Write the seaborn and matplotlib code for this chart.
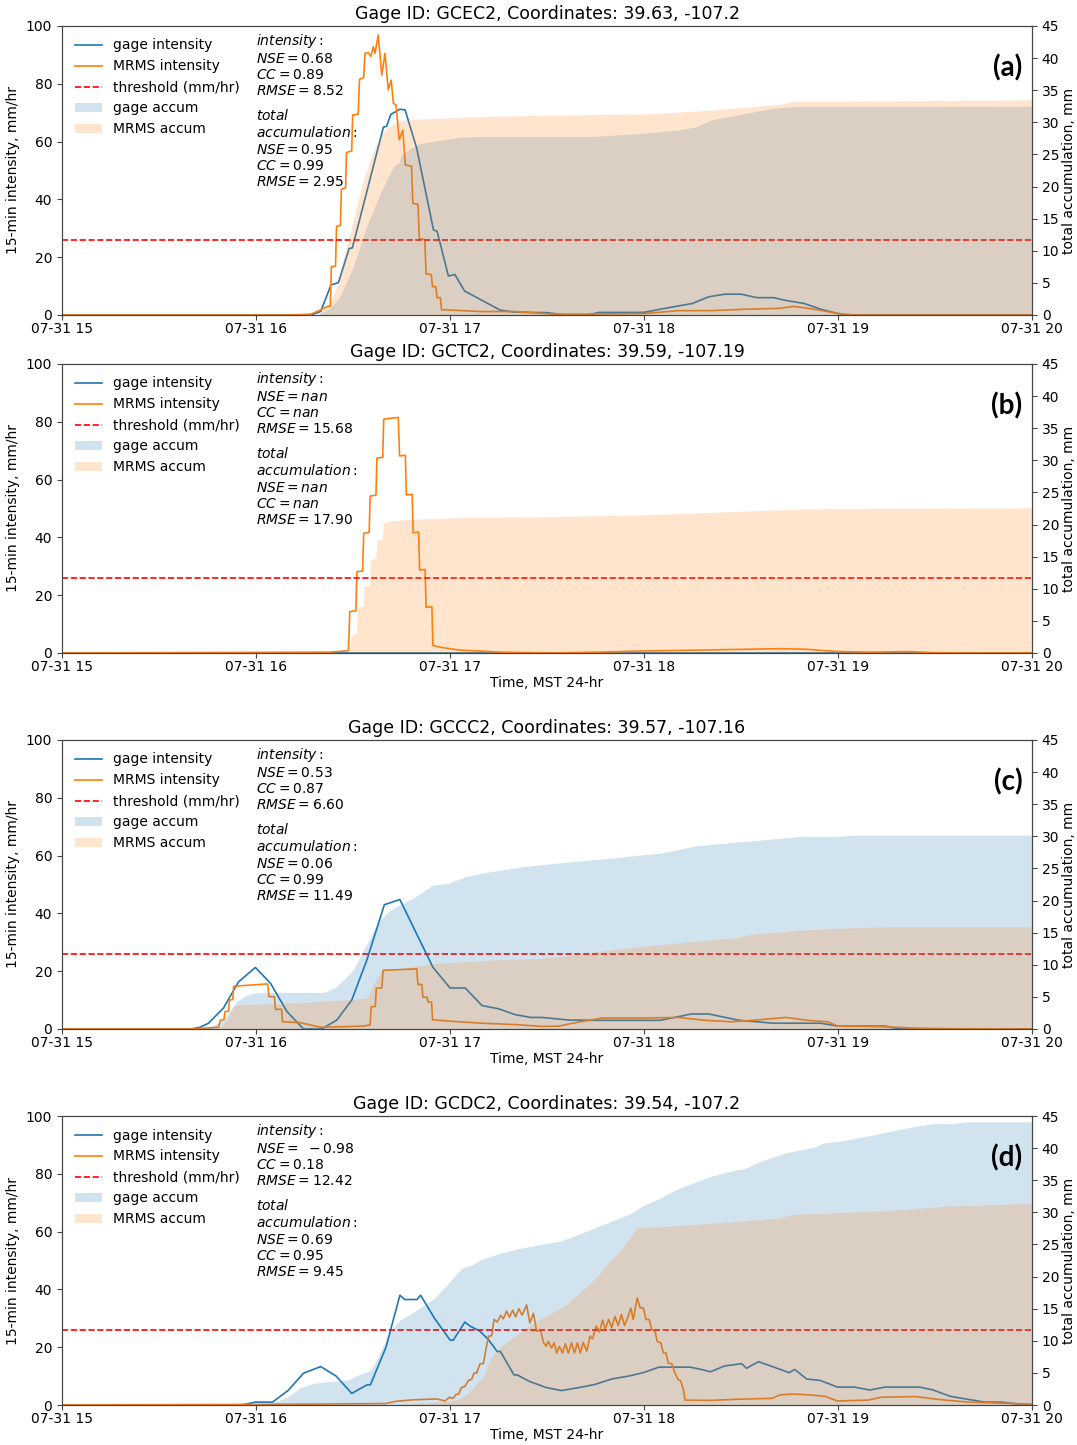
import numpy as np
import pandas as pd
import matplotlib
matplotlib.use("Agg")
import matplotlib.pyplot as plt
import matplotlib.dates as mdates
from matplotlib.lines import Line2D
from matplotlib.patches import Patch
import seaborn as sns

# ---------------- data (time = minutes after 07-31 15:00) ----------------
THRESHOLD = 26.0

TITLES = ["Gage ID: GCEC2, Coordinates: 39.63, -107.2",
          "Gage ID: GCTC2, Coordinates: 39.59, -107.19",
          "Gage ID: GCCC2, Coordinates: 39.57, -107.16",
          "Gage ID: GCDC2, Coordinates: 39.54, -107.2"]
PANEL_TAGS = ["(a)", "(b)", "(c)", "(d)"]
INT_STATS = [("0.68", "0.89", "8.52"), ("nan", "nan", "15.68"),
             ("0.53", "0.87", "6.60"), ("\\ -0.98", "0.18", "12.42")]
ACC_STATS = [("0.95", "0.99", "2.95"), ("nan", "nan", "17.90"),
             ("0.06", "0.99", "11.49"), ("0.69", "0.95", "9.45")]

# panel (a)
A_GAGE_T = [0, 77, 80, 83.2, 85.5, 88.8, 89.8, 99.4, 100.4, 101.7, 104.5, 106.1, 109.7, 114.9, 116.0,
            119.5, 121.5, 124.5, 135.5, 140, 150, 155, 163, 166, 180, 185, 195, 200, 205, 210, 215,
            220, 224, 229.5, 234.7, 240, 243, 300]
A_GAGE_V = [0, 0, 1.2, 10.4, 11.2, 23.0, 23.2, 65.0, 65.3, 69.4, 71.2, 71.0, 57.7, 29.4, 29.0,
            13.5, 14.0, 8.3, 1.7, 1.0, 0.8, 0.1, 0.1, 0.9, 0.9, 2.0, 4.0, 6.3, 7.2, 7.2, 6.0,
            6.0, 5.0, 4.0, 2.0, 0.5, 0, 0]
A_MRMS_T = [0, 70, 77, 79.8, 82.4, 83.0, 83.3, 84.6, 84.9, 86.1, 86.4, 87.7, 88.0, 89.6, 89.9, 91.6,
            92.0, 93.3, 93.7, 94.7, 95.5, 96.3, 96.8, 97.8, 98.9, 99.9, 100.9, 101.8, 102.5, 103.3,
            104.3, 105.4, 106.2, 108.1, 108.5, 110.1, 110.5, 112.2, 112.6, 114.2, 114.6, 115.6, 116.0,
            117.0, 117.4, 120.5, 129.3, 140, 145.5, 151.6, 162, 180, 190.5, 201, 211.6, 222, 226.3,
            232.6, 240, 245, 300]
A_MRMS_V = [0, 0, 0.3, 1.7, 3.1, 3.1, 16.7, 17.0, 30.6, 31.0, 43.5, 44.0, 56.2, 56.8, 69.2, 69.5,
            81.5, 82.2, 90.5, 90.8, 89.5, 92.8, 90.5, 96.9, 83.0, 90.5, 77.9, 81.3, 73.2, 72.7,
            60.6, 64.0, 51.9, 51.5, 38.6, 38.3, 26.5, 26.0, 14.2, 14.0, 9.8, 9.8, 6.0,
            6.0, 1.8, 1.7, 1.2, 1.2, 0.8, 0.3, 0.3, 0.5, 1.5, 1.5, 2.0, 2.3, 3.0,
            2.0, 0.5, 0, 0]
A_GACC_T = [0, 79, 82.9, 86, 90.1, 94.2, 98.4, 100.4, 102.5, 104.3, 104.7, 107.6, 110.7, 116.9, 123.1,
            129.3, 148, 164, 180, 190.5, 196, 201, 211.6, 220, 228.4, 300]
A_GACC_V = [0, 0, 1.0, 2.9, 7.5, 13.8, 18.9, 21.0, 23.1, 23.8, 24.8, 25.9, 26.7, 27.2, 27.7,
            27.8, 27.8, 27.8, 28.3, 28.8, 29.3, 30.4, 31.4, 32.2, 32.5, 32.5]
A_MACC_T = [0, 79, 82.9, 85, 87, 89.1, 91.1, 93.2, 95.3, 97.3, 99.4, 101.4, 103.5, 106.6, 110.7,
            129.3, 148.4, 180, 201, 222, 226.3, 243, 300]
A_MACC_V = [0, 0, 1.8, 4.4, 8.6, 12.7, 16.9, 21.0, 24.1, 26.7, 28.5, 29.4, 30.1, 30.4, 30.5,
            30.9, 31.1, 31.3, 31.9, 32.8, 33.3, 33.3, 33.5]

# panel (b)
B_GAGE_T = [0, 300]
B_GAGE_V = [0, 0]
B_MRMS_T = [0, 82.9, 88.6, 89.0, 90.9, 91.2, 93.0, 93.3, 95.0, 95.3, 97.1, 97.4, 99.2, 99.5, 101.5,
            104.0, 104.4, 106.2, 106.5, 108.3, 108.6, 110.3, 110.6, 112.3, 112.6, 114.4, 114.7, 116.9,
            123.1, 135.5, 151, 166, 180, 197, 222, 230, 240, 250, 262, 270, 280, 300]
B_MRMS_V = [0, 0.3, 0.8, 14.3, 14.6, 28.1, 28.4, 41.4, 41.7, 54.3, 54.6, 67.4, 67.7, 80.9, 81.2,
            81.5, 68.2, 68.4, 54.7, 54.9, 41.6, 41.8, 28.7, 28.9, 15.8, 16.0, 2.6, 2.0,
            1.0, 0.3, 0, 0.3, 0.7, 1.0, 1.5, 1.3, 0.5, 0.3, 0.5, 0.1, 0, 0]
B_GACC_T = [0, 300]
B_GACC_V = [0, 0]
B_MACC_T = [0, 89.0, 89.4, 91.1, 91.4, 93.1, 93.4, 95.1, 95.4, 97.1, 97.4, 99.1, 99.4, 101, 104.5,
            107.6, 123.1, 145.8, 180, 222, 240, 300]
B_MACC_V = [0, 0, 2.7, 3.2, 7.0, 7.4, 10.3, 10.6, 14.5, 14.8, 17.5, 17.8, 20.2, 20.5, 20.7,
            20.8, 21.1, 21.2, 21.5, 22.3, 22.5, 22.6]

# panel (c)
C_GAGE_T = [0, 40, 42.7, 45.3, 49.9, 54.6, 59.8, 64.5, 69.6, 74.7, 80.3, 85.0, 89.6, 94.3, 99.7,
            104.5, 114.7, 120.0, 124.7, 129.9, 135.0, 140.0, 145.0, 148.4, 156.8, 165, 185, 194.7,
            200, 209.5, 220, 234.7, 240, 254.7, 259, 300]
C_GAGE_V = [0, 0, 0.6, 2.0, 7.2, 16.3, 21.3, 15.8, 6.0, 0, 0, 3.1, 10.0, 23.9, 43.0,
            44.8, 21.4, 14.2, 14.2, 8.1, 7.0, 5.0, 4.0, 4.0, 3.1, 3.0, 3.0, 5.2,
            5.2, 3.0, 2.0, 2.0, 1.0, 1.0, 0, 0]
C_MRMS_T = [0, 40, 48.4, 49.0, 50.1, 50.4, 51.5, 51.8, 52.8, 53.1, 63.6, 64.0, 65.7, 66.0, 67.9,
            68.2, 73.6, 80.0, 87.0, 93.2, 95.3, 95.6, 96.9, 97.2, 98.9, 99.3, 109.7, 110.1, 111.3,
            111.6, 112.9, 113.2, 114.3, 114.6, 120.0, 130.0, 140.6, 148.4, 153.7, 157.0, 162.0,
            167.0, 180.0, 190.5, 199.0, 207.0, 213.7, 224.0, 230.5, 236.8, 240.0, 253.7, 264.0,
            275.0, 300]
C_MRMS_V = [0, 0, 0.6, 3.1, 3.2, 6.0, 6.1, 10.0, 10.2, 14.8, 15.6, 11.2, 11.2, 6.8, 6.8,
            2.5, 2.2, 0.6, 0.8, 1.0, 1.4, 7.7, 7.8, 14.1, 14.2, 20.3, 20.8, 15.4, 15.4,
            11.0, 11.0, 9.4, 9.3, 3.2, 2.7, 2.0, 1.5, 0.9, 1.0, 1.8, 2.8,
            3.8, 3.8, 4.0, 3.0, 2.5, 3.0, 4.0, 3.0, 2.5, 1.0, 0.8, 0.3,
            0.1, 0]
C_GACC_T = [0, 42, 45.8, 49.9, 54.0, 57.1, 59.2, 62.0, 80.8, 84.0, 87.0, 90.1, 93.2, 95.3, 97.0,
            100.2, 103.4, 108.7, 114.6, 119.4, 124.7, 130.0, 136.4, 142.8, 148.4, 169.5, 185.3,
            195.8, 206.3, 215.8, 228.4, 240.0, 245.3, 300]
C_GACC_V = [0, 0, 0.3, 1.4, 4.3, 5.3, 5.6, 5.7, 5.7, 6.3, 7.6, 9.2, 12.3, 14.2, 16.0,
            18.0, 19.1, 20.4, 22.4, 22.7, 23.7, 24.3, 24.8, 25.3, 25.6, 26.6, 27.4,
            28.5, 29.0, 29.4, 30.0, 30.0, 30.2, 30.2]
C_MACC_T = [0, 47, 48.9, 51.0, 53.0, 54.5, 63.3, 73.6, 84.0, 94.2, 95.8, 97.3, 99.4, 104.6, 114.9,
            135.4, 148.4, 158, 169.5, 180, 190.5, 201, 208.4, 213.7, 222, 228.4, 240, 253.7, 300]
C_MACC_V = [0, 0, 0.3, 1.4, 3.5, 3.8, 3.9, 4.1, 4.4, 4.8, 6.3, 7.9, 9.2, 9.4, 10.2,
            10.8, 11.0, 11.5, 12.3, 12.9, 13.4, 13.9, 14.2, 14.8, 15.1, 15.4, 15.7, 15.9, 15.9]

# panel (d)
D_GAGE_T = [0, 55.5, 59.8, 65.1, 69.9, 74.7, 80.0, 84.8, 89.6, 94.4, 95.4, 100.2, 104.5, 106.0,
            109.8, 110.9, 115.2, 120.0, 121.0, 124.6, 126.2, 129.3, 131.9, 134.6, 135.6, 139.8,
            140.8, 144.7, 149.9, 154.5, 160.2, 164.8, 170.0, 175.2, 179.8, 184.6, 194.2, 197.3,
            200.6, 204.9, 210.2, 211.7, 215.4, 224.9, 226.6, 230.3, 234.5, 239.8, 245.0, 249.8,
            254.6, 265.2, 269.4, 274.7, 280.0, 285.3, 290.6, 296.0, 300]
D_GAGE_V = [0, 0, 1.0, 1.0, 5.0, 11.0, 13.3, 10.0, 4.0, 7.0, 7.0, 20.0, 38.0, 36.5,
            36.5, 38.0, 30.0, 22.5, 22.4, 28.7, 27.3, 25.5, 22.6, 18.5, 18.5, 10.4,
            10.4, 8.1, 6.0, 5.0, 6.1, 7.1, 9.0, 10.0, 11.2, 13.1, 13.1, 12.4,
            11.5, 13.5, 14.3, 12.7, 15.0, 11.2, 12.3, 9.0, 8.5, 6.2, 6.2, 5.2,
            6.2, 6.2, 5.2, 3.0, 2.0, 1.0, 1.0, 0.3, 0]
D_MRMS_T = [0, 78, 100, 103.4, 108.7, 115.9, 118.5, 119.8, 121.0, 121.9,
            122.6, 123.6, 124.6, 125.7, 126.7, 127.4, 128.2, 129.3, 130.3, 130.8,
            131.9, 132.9, 133.6, 134.6, 135.7, 136.5, 137.5, 138.4, 139.4, 140.3,
            141.3, 142.3, 143.7, 144.7, 145.8, 146.8, 148.0, 148.9, 149.7, 150.4,
            151.4, 152.2, 153.0, 153.8, 154.8, 155.7, 156.6, 157.6, 158.5, 159.4,
            160.3, 161.2, 162.3, 163.3, 164.1, 165.2, 166.2, 167.2, 168.0, 169.1,
            170.0, 171.0, 172.0, 173.0, 174.0, 175.2, 175.9, 176.7, 177.9, 178.8,
            179.8, 180.6, 181.6, 182.4, 183.4, 184.1, 185.2, 186.0, 186.8, 187.5,
            188.6, 189.6, 190.6, 191.3, 192.2, 192.7, 200.6, 209.1, 219.7, 222.0,
            226.0, 232.4, 236.0, 239.8, 249.3, 253.5, 264.1, 270.5, 280.0, 300]
D_MRMS_V = [0, 0.3, 0.5, 1.3, 1.8, 2.1, 1.4, 2.7, 2.3, 3.7,
            3.7, 6.1, 6.4, 8.5, 8.9, 11.0, 11.0, 14.3, 14.3, 17.4,
            23.8, 24.0, 29.6, 28.7, 31.0, 29.8, 32.5, 30.4, 32.8, 30.5,
            33.3, 31.1, 34.6, 28.4, 31.7, 25.5, 25.9, 21.7, 20.3, 22.0,
            19.7, 21.5, 18.0, 20.3, 18.0, 21.2, 18.0, 21.5, 18.0, 21.5,
            18.0, 21.7, 18.6, 23.8, 22.9, 27.3, 25.2, 29.4, 26.3, 29.6,
            26.7, 30.7, 27.5, 31.3, 27.5, 31.0, 33.6, 29.6, 37.1, 33.6,
            33.6, 29.6, 29.6, 26.1, 25.5, 22.0, 21.5, 18.0, 18.0, 14.5,
            14.3, 11.0, 8.7, 8.5, 5.2, 1.7, 1.6, 2.0, 2.3, 3.5,
            3.8, 3.4, 3.0, 1.4, 1.7, 2.7, 2.9, 2.0, 1.0, 0.3]
D_GACC_T = [0, 59.5, 65.1, 69.9, 73.6, 77.9, 82.0, 88.5, 91.7, 95.4, 97.0, 101.3, 104.5, 109.8,
            115.1, 119.4, 123.6, 126.8, 129.3, 135.3, 141.6, 147.8, 154.0, 158.3, 168.9, 175.7,
            179.5, 185.0, 190.1, 200.6, 209.1, 210.5, 216.5, 223.9, 232.4, 235.6, 240.8, 249.3,
            258.8, 265.2, 269.4, 274.7, 280.0, 300]
D_GACC_V = [0, 0, 0.3, 1.3, 2.7, 3.4, 3.6, 3.9, 4.7, 5.4, 6.7, 11.4, 13.2, 14.8,
            16.6, 18.9, 21.3, 21.8, 22.6, 23.6, 24.4, 25.0, 25.5, 26.3, 28.4, 29.8,
            31.0, 32.2, 33.6, 35.6, 36.7, 36.7, 38.0, 39.3, 40.1, 40.8, 41.1, 41.9,
            42.9, 43.5, 43.8, 43.8, 44.1, 44.1]
D_MACC_T = [0, 100, 110, 120, 122.1, 124.1, 126.2, 128.2, 130.3, 131.3, 132.4, 133.4, 135.5, 138.6,
            141.6, 144.7, 147.8, 152.0, 156.0, 158.3, 160.2, 163.3, 166.4, 168.9, 172.6, 175.2,
            176.5, 177.9, 190.1, 209.1, 221.8, 226.0, 253.5, 274.7, 300]
D_MACC_V = [0, 0, 0.3, 0.6, 0.8, 1.3, 2.1, 3.4, 4.3, 5.8, 7.0, 7.9, 9.0, 10.2,
            11.3, 12.5, 13.3, 14.5, 15.6, 16.7, 17.5, 18.9, 20.5, 22.2, 24.0, 25.7,
            26.5, 27.6, 27.9, 28.6, 29.1, 29.7, 30.2, 31.0, 31.4]

PANELS = [
    (A_GAGE_T, A_GAGE_V, A_MRMS_T, A_MRMS_V, A_GACC_T, A_GACC_V, A_MACC_T, A_MACC_V),
    (B_GAGE_T, B_GAGE_V, B_MRMS_T, B_MRMS_V, B_GACC_T, B_GACC_V, B_MACC_T, B_MACC_V),
    (C_GAGE_T, C_GAGE_V, C_MRMS_T, C_MRMS_V, C_GACC_T, C_GACC_V, C_MACC_T, C_MACC_V),
    (D_GAGE_T, D_GAGE_V, D_MRMS_T, D_MRMS_V, D_GACC_T, D_GACC_V, D_MACC_T, D_MACC_V),
]

BASE = pd.Timestamp("2021-07-31 15:00")


def to_time(mins):
    return BASE + pd.to_timedelta(np.asarray(mins, dtype=float), unit="m")


# ---------------- figure ----------------
plt.rcParams["font.family"] = ["DejaVu Sans"]
plt.rcParams["font.size"] = 10

fig = plt.figure(figsize=(10.77, 14.45), dpi=100)
LEFT, WIDTH, HEIGHT = 0.05757, 0.90065, 0.2
BOTTOMS = [0.78201, 0.54810, 0.28789, 0.02768]
EDGE = "#444444"

for i, (gt, gv, mt, mv, gat, gav, mat, mav) in enumerate(PANELS):
    ax = fig.add_axes([LEFT, BOTTOMS[i], WIDTH, HEIGHT])
    ax2 = ax.twinx()

    sns.lineplot(x=to_time(gt), y=gv, ax=ax, color="tab:blue", lw=1.2,
                 estimator=None, sort=False, legend=False)
    sns.lineplot(x=to_time(mt), y=mv, ax=ax, color="tab:orange", lw=1.2,
                 estimator=None, sort=False, legend=False)
    ax.axhline(THRESHOLD, color="red", ls="--", lw=1.2)

    ax2.fill_between(to_time(gat), gav, color="tab:blue", alpha=0.2, lw=0)
    ax2.fill_between(to_time(mat), mav, color="tab:orange", alpha=0.2, lw=0)

    ax.set_xlim(to_time([0])[0], to_time([300])[0])
    ax.set_ylim(0, 100)
    ax.set_yticks(range(0, 101, 20))
    ax2.set_ylim(0, 45)
    ax2.set_yticks(range(0, 46, 5))
    ax.xaxis.set_major_locator(mdates.HourLocator())
    ax.xaxis.set_major_formatter(mdates.DateFormatter("%m-%d %H"))

    ax.set_ylabel("15-min intensity, mm/hr", fontsize=10)
    ax2.set_ylabel("total accumulation, mm", fontsize=10, labelpad=2)
    ax.set_xlabel("Time, MST 24-hr" if i > 0 else "", fontsize=10, labelpad=1.5)
    ax.set_title(TITLES[i], fontsize=12.5, pad=5)

    for a in (ax, ax2):
        a.tick_params(labelsize=10, color=EDGE)
        for s in a.spines.values():
            s.set_color(EDGE)
            s.set_linewidth(0.8)
    ax.tick_params(axis="x", pad=1.5)

    handles = [Line2D([], [], color="tab:blue", lw=1.2),
               Line2D([], [], color="tab:orange", lw=1.2),
               Line2D([], [], color="red", ls="--", lw=1.2),
               Patch(facecolor="tab:blue", alpha=0.2, lw=0),
               Patch(facecolor="tab:orange", alpha=0.2, lw=0)]
    labels = ["gage intensity", "MRMS intensity", "threshold (mm/hr)",
              "gage accum", "MRMS accum"]
    ax2.legend(handles, labels, loc="upper left", frameon=False, fontsize=10)

    n1, c1, r1 = INT_STATS[i]
    n2, c2, r2 = ACC_STATS[i]
    ax2.text(0.2, 0.98,
             "$intensity:$\n" + f"$NSE = {n1}$\n$CC = {c1}$\n$RMSE = {r1}$",
             transform=ax.transAxes, ha="left", va="top", fontsize=10)
    ax2.text(0.2, 0.716,
             "$total$\n$accumulation:$\n" + f"$NSE = {n2}$\n$CC = {c2}$\n$RMSE = {r2}$",
             transform=ax.transAxes, ha="left", va="top", fontsize=10)
    ax2.text(0.99, 0.855, PANEL_TAGS[i], transform=ax.transAxes, ha="right",
             va="center", fontsize=20, fontweight="bold", family=["Lato", "DejaVu Sans"])

fig.savefig("out.png", dpi=100)
